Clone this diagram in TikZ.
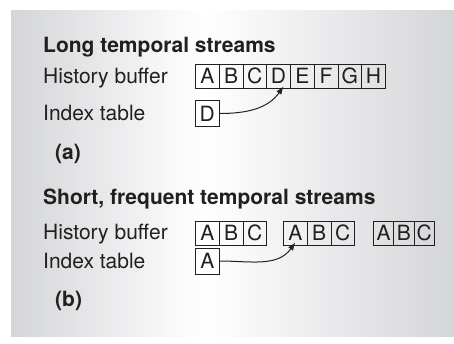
\documentclass[tikz,border=0pt]{standalone}
\usepackage{fontspec}
\setmainfont{TeX Gyre Heros}
\usepackage{tikz}
\usetikzlibrary{arrows.meta}
\usepackage{xcolor}
\definecolor{panelgray}{RGB}{212,213,216}
\definecolor{inkblack}{RGB}{35,31,32}

\tikzset{
  cell/.style={draw=inkblack, line width=0.8pt, rectangle, inner sep=0pt,
    minimum width=23.75pt, minimum height=24pt, anchor=west,
    font=\fontsize{21}{25}\selectfont, text=inkblack},
  narrowcell/.style={cell, minimum width=20.3pt},
  idxbox/.style={cell, minimum height=26pt},
  lbl/.style={anchor=base west, inner sep=0pt,
    font=\fontsize{21}{25}\selectfont, text=inkblack},
  ttl/.style={lbl, font=\fontsize{21}{25}\selectfont\bfseries},
  link/.style={-{Latex[length=8pt,width=6pt]}, line width=1pt, draw=inkblack},
}

\begin{document}
\begin{tikzpicture}[x=1pt, y=1pt]
    \useasboundingbox (0,0) rectangle (454,344);
    % background panel
    \shade[left color=panelgray, right color=white] (11,7) rectangle (205,333);
    \shade[left color=white, right color=panelgray] (205,7) rectangle (454,333);

    % (a) long streams
    \node[ttl] (title1) at (43,291) {Long temporal streams};
    \node[lbl] (hist1) at (43,260.5) {History buffer};
    \node[lbl] (index1) at (43,223) {Index table};
    \foreach \l [count=\i from 0] in {A,B,C,D,E,F,G,H}
        \node[cell] (h\l) at (195+\i*23.75,268) {\l};
    \node[idxbox] (iD) at (195,230.5) {D};
    \draw[link] (iD.east) to[out=0, in=-125] ([xshift=5pt,yshift=2pt]hD.south);
    \node[ttl] (laba) at (55,184) {(a)};

    % (b) short, frequent streams
    \node[ttl] (title2) at (43,139) {Short, frequent temporal streams};
    \node[lbl] (hist2) at (43,104) {History buffer};
    \node[lbl] (index2) at (43,75) {Index table};
    \foreach \g/\x in {1/195,2/283}
        \foreach \l [count=\i from 0] in {A,B,C}
            \node[cell] (s\g\l) at (\x+\i*23.75,111) {\l};
    \foreach \l [count=\i from 0] in {A,B,C}
        \node[narrowcell] (s3\l) at (373+\i*20.3,111) {\l};
    \node[idxbox] (iA) at (195,83) {A};
    \draw[link] (iA.east) to[out=0, in=-125] ([yshift=3pt]s2A.south);
    \node[ttl] (labb) at (55,37) {(b)};
\end{tikzpicture}
\end{document}
